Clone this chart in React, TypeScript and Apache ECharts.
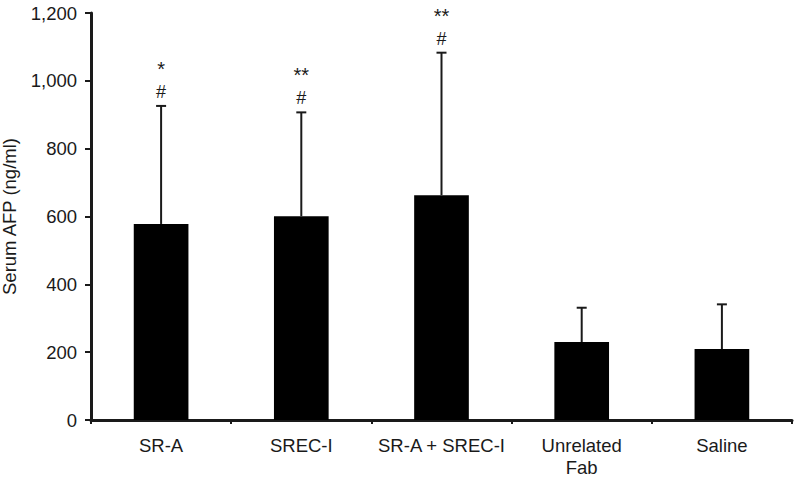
import React, { useEffect, useRef } from "react";
import * as echarts from "echarts";

const categories = ["SR-A", "SREC-I", "SR-A + SREC-I", "Unrelated\nFab", "Saline"];
const means = [578, 601, 663, 230, 209];
const errorTops = [926, 907, 1083, 331, 341];
const hashMarks = ["#", "#", "#", "", ""];
const starMarks = ["*", "**", "**", "", ""];
const yTicks = [0, 200, 400, 600, 800, 1000, 1200];

const FONT = "'Liberation Sans', Arial, Helvetica, sans-serif";
const INK = "#1a1a1a";

export default function App() {
  const ref = useRef<HTMLDivElement>(null);
  useEffect(() => {
    if (!ref.current) return;
    const chart = echarts.init(ref.current, undefined, { renderer: "svg" });
    chart.setOption({
      animation: false,
      grid: { left: 91, right: 4, top: 13, bottom: 58, containLabel: false, outerBoundsMode: "none" },
      xAxis: {
        type: "category",
        data: categories,
        boundaryGap: true,
        axisLine: { show: true, lineStyle: { color: INK, width: 3 } },
        axisTick: { show: true, alignWithLabel: false, length: 4, lineStyle: { color: INK, width: 2 } },
        axisLabel: { color: INK, fontSize: 18.5, fontFamily: FONT, margin: 14, lineHeight: 22, interval: 0 },
        splitLine: { show: false },
      },
      yAxis: {
        type: "value",
        min: yTicks[0],
        max: yTicks[yTicks.length - 1],
        interval: 200,
        name: "Serum AFP (ng/ml)",
        nameLocation: "middle",
        nameGap: 72,
        nameTextStyle: { color: INK, fontSize: 18.5, fontFamily: FONT },
        axisLine: { show: true, lineStyle: { color: INK, width: 3 } },
        axisTick: { show: true, inside: false, length: 6, lineStyle: { color: INK, width: 2 } },
        axisLabel: {
          color: INK,
          fontSize: 18.5,
          fontFamily: FONT,
          margin: 14,
          formatter: (v: number) => v.toLocaleString("en-US"),
        },
        splitLine: { show: false },
      },
      series: [
        {
          type: "bar",
          data: means,
          barWidth: "39%",
          itemStyle: { color: "#000" },
          z: 2,
        },
        {
          type: "custom",
          data: categories.map((_, i) => [i, means[i], errorTops[i]]),
          z: 3,
          renderItem: (params: any, api: any) => {
            const i = api.value(0);
            const base = api.coord([i, api.value(1)]);
            const top = api.coord([i, api.value(2)]);
            const half = 5;
            const children: any[] = [
              {
                type: "line",
                shape: { x1: base[0], y1: base[1], x2: top[0], y2: top[1] },
                style: { stroke: INK, lineWidth: 2 },
              },
              {
                type: "line",
                shape: { x1: top[0] - half, y1: top[1], x2: top[0] + half, y2: top[1] },
                style: { stroke: INK, lineWidth: 2 },
              },
            ];
            if (hashMarks[i]) {
              children.push({
                type: "text",
                style: {
                  text: hashMarks[i],
                  x: top[0],
                  y: top[1] - 14,
                  align: "center",
                  verticalAlign: "middle",
                  fontSize: 18,
                  fontFamily: FONT,
                  fill: INK,
                },
              });
            }
            if (starMarks[i]) {
              children.push({
                type: "text",
                style: {
                  text: starMarks[i],
                  x: top[0],
                  y: top[1] - 37,
                  align: "center",
                  verticalAlign: "middle",
                  fontSize: 20,
                  fontFamily: FONT,
                  fill: INK,
                },
              });
            }
            return { type: "group", children };
          },
        },
      ],
    });
    return () => chart.dispose();
  }, []);
  return <div ref={ref} style={{ width: 796, height: 478, position: "absolute", left: 0, top: 0 }} />;
}
